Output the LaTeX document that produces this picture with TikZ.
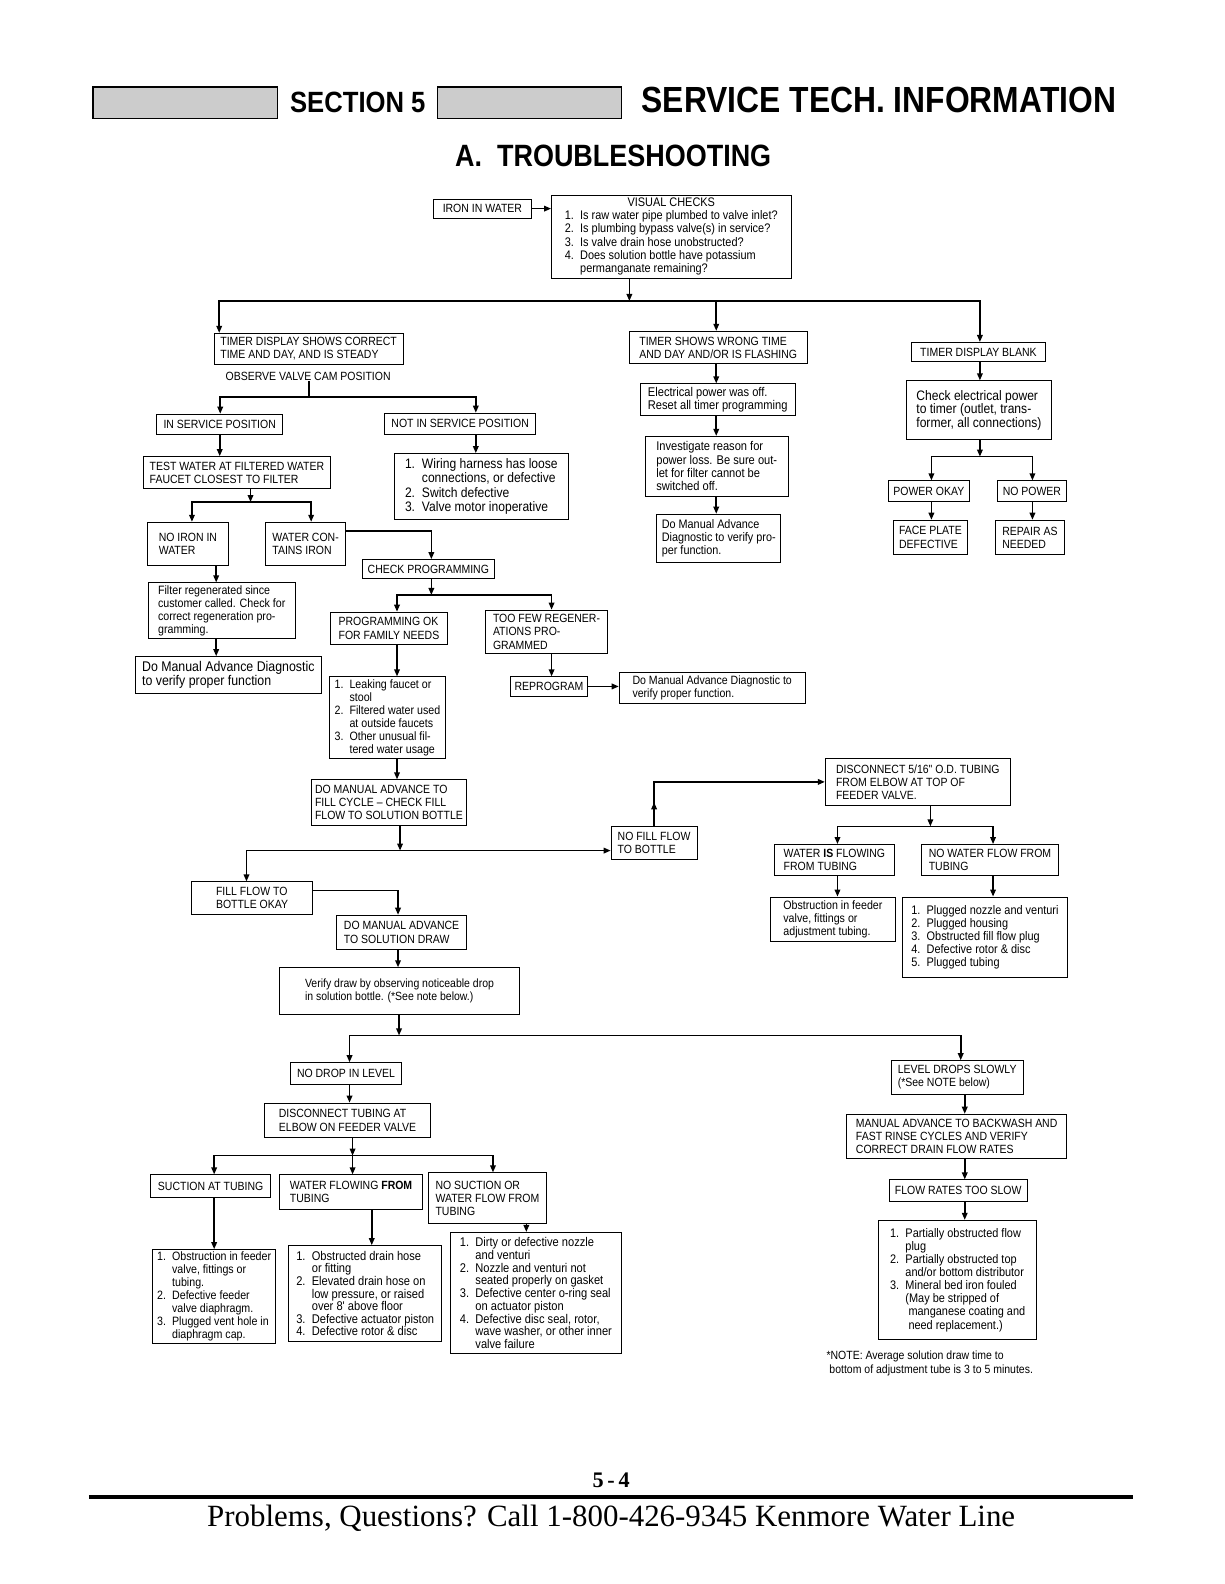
\documentclass[tikz,border=0pt]{standalone}
\usepackage{fontspec}
\setmainfont{Liberation Sans}
\newfontfamily\condf[FakeStretch=0.88]{Liberation Sans}
\newfontfamily\serifft{Liberation Serif}
\usepackage{graphicx}
\usetikzlibrary{arrows.meta,decorations.markings,calc}

\newcommand\nm[1]{#1.\enspace}
\newcommand\hind{\hphantom{1.\enspace}}
\newcommand\flowbox[7]{%
  \pgfmathsetmacro\bxw{#4-#2}%
  \pgfmathsetmacro\bxh{#5-#3}%
  \node[box,minimum width=\bxw pt,minimum height=\bxh pt,#6] (#1) at ({(#2+#4)/2},{(#3+#5)/2}) {#7};}

\tikzset{
  box/.style={draw, line width=0.9pt, inner xsep=4pt, inner ysep=2pt, align=left, font=\condf\fontsize{11.8}{13}\selectfont},
  fs/.style n args={2}{font=\condf\fontsize{#1}{#2}\selectfont},
  conn/.style={line width=1.6pt},
  arr/.style={conn,-{Triangle[length=7pt,width=5.5pt]}},
  darr/.style={conn,{Triangle[length=7pt,width=5.5pt]}-{Triangle[length=7pt,width=5.5pt]}},
  plain/.style={inner sep=0pt},
  midup/.style={postaction={decorate}, decoration={markings, mark=at position 0.11 with {\arrow{Triangle[length=7pt,width=5.5pt]}}}},
  hdrbox/.style={draw, line width=1.3pt, fill=black!20},
}

\begin{document}
\begin{tikzpicture}[x=1pt,y=-1pt]
\useasboundingbox (0,0) rectangle (1212,1568);
\fill[white] (0,0) rectangle (1212,1568);

% header
\draw[hdrbox] (92,86) rectangle (275,117);
\draw[hdrbox] (433,86) rectangle (615,117);
\node[plain,anchor=west] (sec) at (287,101) {\scalebox{0.875}[1]{\fontsize{29}{29}\selectfont\bfseries SECTION 5}};
\node[plain,anchor=west] (stitle) at (635,99) {\scalebox{0.875}[1]{\fontsize{36}{36}\selectfont\bfseries SERVICE TECH. INFORMATION}};
\node[plain] (trouble) at (607,154) {\scalebox{0.875}[1]{\fontsize{30.5}{30}\selectfont\bfseries A.\ \ TROUBLESHOOTING}};

% top
\flowbox{iron}{429}{197}{526}{216}{}{IRON IN WATER}
\flowbox{vis}{546}{193}{783}{276}{fs={12.3}{13}}{\begin{tabular}{@{}l@{}}\multicolumn{1}{@{}c@{}}{VISUAL CHECKS}\\ \nm1Is raw water pipe plumbed to valve inlet?\\ \nm2Is plumbing bypass valve(s) in service?\\ \nm3Is valve drain hose unobstructed?\\ \nm4Does solution bottle have potassium\\ \hind permanganate remaining?\end{tabular}}

% left column
\flowbox{tcor}{212}{330}{399}{361}{}{TIMER DISPLAY SHOWS CORRECT\\TIME AND DAY, AND IS STEADY}
\node[plain,font=\condf\fontsize{11.8}{13}\selectfont] (obsv) at (305,373) {OBSERVE VALVE CAM POSITION};
\flowbox{insvc}{155}{410}{280}{430}{}{IN SERVICE POSITION}
\flowbox{notin}{381}{409}{530}{430}{}{NOT IN SERVICE POSITION}
\flowbox{testw}{142}{452}{327}{484}{}{TEST WATER AT FILTERED WATER\\FAUCET CLOSEST TO FILTER}
\flowbox{wiring}{390}{449}{563}{514}{fs={13.6}{14}}{\nm1Wiring harness has loose\\\hind connections, or defective\\\nm2Switch defective\\\nm3Valve motor inoperative}
\flowbox{noiron}{146}{517}{226}{560}{}{NO IRON IN\\WATER}
\flowbox{wcon}{263}{517}{342}{560}{}{WATER CON-\\TAINS IRON}
\flowbox{chkprog}{359}{554}{489}{573}{}{CHECK PROGRAMMING}
\flowbox{filter}{147}{577}{292}{632}{fs={12}{13}}{Filter regenerated since\\customer called. Check for\\correct regeneration pro-\\gramming.}
\flowbox{doma1}{134}{650}{318}{686}{fs={13.9}{14}}{Do Manual Advance Diagnostic\\to verify proper function}
\flowbox{progok}{327}{606}{443}{638}{}{PROGRAMMING OK\\FOR FAMILY NEEDS}
\flowbox{toofew}{481}{604}{601}{647}{}{TOO FEW REGENER-\\ATIONS PRO-\\GRAMMED}
\flowbox{leak}{326}{670}{441}{751}{fs={12}{12.8}}{\nm1Leaking faucet or\\\hind stool\\\nm2Filtered water used\\\hind at outside faucets\\\nm3Other unusual fil-\\\hind tered water usage}
\flowbox{reprog}{505}{670}{582}{689}{}{REPROGRAM}
\flowbox{doma2}{613}{666}{797}{696}{fs={11.9}{13}}{Do Manual Advance Diagnostic to\\verify proper function.}
\flowbox{domaf}{309}{772}{461}{817}{}{DO MANUAL ADVANCE TO\\FILL CYCLE – CHECK FILL\\FLOW TO SOLUTION BOTTLE}
\flowbox{nofill}{605}{818}{690}{851}{}{NO FILL FLOW\\TO BOTTLE}
\flowbox{disc}{817}{751}{1000}{797}{}{DISCONNECT 5/16" O.D. TUBING\\FROM ELBOW AT TOP OF\\FEEDER VALVE.}
\flowbox{wif}{767}{836}{885}{867}{}{WATER \textbf{IS} FLOWING\\FROM TUBING}
\flowbox{nwf}{912}{836}{1048}{867}{}{NO WATER FLOW FROM\\TUBING}
\flowbox{obs}{763}{888}{886}{932}{fs={12}{13}}{Obstruction in feeder\\valve, fittings or\\adjustment tubing.}
\flowbox{plug}{893}{888}{1057}{968}{fs={12.3}{13}}{\nm1Plugged nozzle and venturi\\\nm2Plugged housing\\\nm3Obstructed fill flow plug\\\nm4Defective rotor \& disc\\\nm5Plugged tubing}
\flowbox{fillok}{190}{873}{309}{905}{}{FILL FLOW TO\\BOTTLE OKAY}
\flowbox{domsd}{333}{906}{462}{940}{}{DO MANUAL ADVANCE\\TO SOLUTION DRAW}
\flowbox{verify}{277}{958}{514}{1004}{fs={11.8}{13}}{Verify draw by observing noticeable drop\\in solution bottle. (*See note below.)}
\flowbox{nodrop}{288}{1052}{397}{1073}{}{NO DROP IN LEVEL}
\flowbox{level}{882}{1050}{1013}{1083}{}{LEVEL DROPS SLOWLY\\(*See NOTE below)}
\flowbox{dtub}{262}{1092}{426}{1126}{}{DISCONNECT TUBING AT\\ELBOW ON FEEDER VALVE}
\flowbox{manbw}{838}{1103}{1056}{1147}{}{MANUAL ADVANCE TO BACKWASH AND\\FAST RINSE CYCLES AND VERIFY\\CORRECT DRAIN FLOW RATES}
\flowbox{suct}{149}{1163}{268}{1185}{}{SUCTION AT TUBING}
\flowbox{wff}{277}{1163}{418}{1197}{}{WATER FLOWING \textbf{FROM}\\TUBING}
\flowbox{nosuc}{424}{1161}{541}{1211}{}{NO SUCTION OR\\WATER FLOW FROM\\TUBING}
\flowbox{flowslow}{880}{1168}{1017}{1189}{}{FLOW RATES TOO SLOW}
\flowbox{obsf}{151}{1237}{273}{1330}{fs={12}{12.8}}{\nm1Obstruction in feeder\\\hind valve, fittings or\\\hind tubing.\\\nm2Defective feeder\\\hind valve diaphragm.\\\nm3Plugged vent hole in\\\hind diaphragm cap.}
\flowbox{obdr}{286}{1233}{437}{1328}{fs={12.5}{12.5}}{\nm1Obstructed drain hose\\\hind or fitting\\\nm2Elevated drain hose on\\\hind low pressure, or raised\\\hind over 8' above floor\\\nm3Defective actuator piston\\\nm4Defective rotor \& disc}
\flowbox{dirty}{446}{1220}{615}{1340}{fs={12.5}{12.6}}{\nm1Dirty or defective nozzle\\\hind and venturi\\\nm2Nozzle and venturi not\\\hind seated properly on gasket\\\nm3Defective center o-ring seal\\\hind on actuator piston\\\nm4Defective disc seal, rotor,\\\hind wave washer, or other inner\\\hind valve failure}
\flowbox{part}{870}{1208}{1026}{1326}{fs={12.3}{13}}{\nm1Partially obstructed flow\\\hind plug\\\nm2Partially obstructed top\\\hind and/or bottom distributor\\\nm3Mineral bed iron fouled\\\hind (May be stripped of\\\hind\ manganese coating and\\\hind\ need replacement.)}
\node[plain,anchor=north west,align=left,font=\condf\fontsize{11.8}{14}\selectfont] (note) at (818,1337) {*NOTE: Average solution draw time to\\\ bottom of adjustment tube is 3 to 5 minutes.};

% middle column
\flowbox{twrong}{623}{328}{799}{360}{}{TIMER SHOWS WRONG TIME\\AND DAY AND/OR IS FLASHING}
\flowbox{elec}{634}{380}{787}{411}{fs={12.5}{13}}{Electrical power was off.\\Reset all timer programming}
\flowbox{invest}{639}{432}{780}{491}{fs={12.5}{13.3}}{Investigate reason for\\power loss. Be sure out-\\let for filter cannot be\\switched off.}
\flowbox{doma3}{650}{509}{773}{557}{fs={12.2}{13}}{Do Manual Advance\\Diagnostic to verify pro-\\per function.}

% right column
\flowbox{tblank}{902}{339}{1035}{358}{}{TIMER DISPLAY BLANK}
\flowbox{checke}{897}{377}{1041}{435}{fs={13.6}{13.5}}{Check electrical power\\to timer (outlet, trans-\\former, all connections)}
\flowbox{pok}{879}{476}{960}{496}{}{POWER OKAY}
\flowbox{nopow}{987}{476}{1056}{496}{}{NO POWER}
\flowbox{face}{884}{515}{958}{549}{}{FACE PLATE\\DEFECTIVE}
\flowbox{repair}{985}{515}{1054}{549}{}{REPAIR AS\\NEEDED}

% junction coordinates
\coordinate (j0) at (623,298);
\coordinate (jL) at (217,298);
\coordinate (jM) at (709,298);
\coordinate (jR) at (970,298);
\coordinate (kL) at (218,393);
\coordinate (kM) at (306,393);
\coordinate (kR) at (471,393);
\coordinate (m0) at (248,497);
\coordinate (mL) at (190,497);
\coordinate (mR) at (308,497);
\coordinate (fx) at (214,0);
\coordinate (cx) at (427,0);
\coordinate (nL) at (393,589);
\coordinate (nR) at (546,589);
\coordinate (p0) at (396,842);
\coordinate (pL) at (244,842);
\coordinate (q0) at (921,818);
\coordinate (qL) at (829,818);
\coordinate (qR) at (983,818);
\coordinate (sx) at (394,0);
\coordinate (r0) at (395,1025);
\coordinate (rL) at (346,1025);
\coordinate (rR) at (951,1025);
\coordinate (s0) at (349,1144);
\coordinate (sL) at (212,1144);
\coordinate (sR) at (488,1144);
\coordinate (wx) at (368,0);
\coordinate (nx) at (521,0);
\coordinate (lx) at (955,0);
\coordinate (vL) at (922,452);
\coordinate (vR) at (1022,452);

% connectors
\draw[arr] (iron.east) -- (iron.east -| vis.west);
\draw[arr] (vis.south -| j0) -- (j0);
\draw[darr] (jL |- tcor.north) -- (jL) -- (jR) -- (jR |- tblank.north);
\draw[arr] (jM) -- (jM |- twrong.north);

\draw[conn] (obsv.south -| kM) -- (kM);
\draw[darr] (kL |- insvc.north) -- (kL) -- (kR) -- (kR |- notin.north);
\draw[arr] (insvc.south) -- (insvc.south |- testw.north);
\draw[arr] (notin.south -| kR) -- (kR |- wiring.north);
\draw[arr] (testw.south -| m0) -- (m0);
\draw[darr] (mL |- noiron.north) -- (mL) -- (mR) -- (mR |- wcon.north);
\draw[arr] (noiron.south -| fx) -- (fx |- filter.north);
\draw[arr] (filter.south -| fx) -- (fx |- doma1.north);
\draw[arr] ([yshift=-9pt]wcon.north east) -| (cx |- chkprog.north);
\draw[arr] (chkprog.south -| cx) -- (cx |- nL);
\draw[darr] (nL |- progok.north) -- (nL) -- (nR) -- (nR |- toofew.north);
\draw[arr] (progok.south -| nL) -- (nL |- leak.north);
\draw[arr] (toofew.south -| nR) -- (nR |- reprog.north);
\draw[arr] (reprog.east) -- (reprog.east -| doma2.west);
\draw[arr] (leak.south -| nL) -- (nL |- domaf.north);
\draw[arr] (domaf.south -| p0) -- (p0);
\draw[darr] (pL |- fillok.north) -- (pL) -- (pL -| nofill.west);
\draw[arr,midup] (nofill.north) |- (disc.west);
\draw[arr] (disc.south -| q0) -- (q0);
\draw[darr] (qL |- wif.north) -- (qL) -- (qR) -- (qR |- nwf.north);
\draw[arr] (wif.south -| qL) -- (qL |- obs.north);
\draw[arr] (nwf.south -| qR) -- (qR |- plug.north);
\draw[arr] ([yshift=-9pt]fillok.north east) -| (sx |- domsd.north);
\draw[arr] (domsd.south -| sx) -- (sx |- verify.north);
\draw[arr] (verify.south -| r0) -- (r0);
\draw[darr] (rL |- nodrop.north) -- (rL) -- (rR) -- (rR |- level.north);
\draw[arr] (nodrop.south -| rL) -- (rL |- dtub.north);
\draw[arr] (dtub.south -| s0) -- (s0);
\draw[arr] (s0) -- (s0 |- wff.north);
\draw[darr] (sL |- suct.north) -- (sL) -- (sR) -- (sR |- nosuc.north);
\draw[arr] (suct.south -| sL) -- (sL |- obsf.north);
\draw[arr] (wff.south -| wx) -- (wx |- obdr.north);
\draw[arr] (nosuc.south -| nx) -- (nx |- dirty.north);
\draw[arr] (level.south -| lx) -- (lx |- manbw.north);
\draw[arr] (manbw.south -| lx) -- (lx |- flowslow.north);
\draw[arr] (flowslow.south -| lx) -- (lx |- part.north);

\draw[arr] (twrong.south -| jM) -- (jM |- elec.north);
\draw[arr] (elec.south -| jM) -- (jM |- invest.north);
\draw[arr] (invest.south -| jM) -- (jM |- doma3.north);

\draw[arr] (tblank.south -| jR) -- (jR |- checke.north);
\draw[arr] (checke.south -| jR) -- (jR |- vL);
\draw[darr] (vL |- pok.north) -- (vL) -- (vR) -- (vR |- nopow.north);
\draw[arr] (pok.south -| vL) -- (vL |- face.north);
\draw[arr] (nopow.south -| vR) -- (vR |- repair.north);

% footer
\node[plain] (pnum) at (605,1465) {\serifft\fontsize{22}{22}\selectfont\bfseries 5\,-\,4};
\draw[line width=3.5pt] (88,1482) coordinate (fl) -- (1122,1482) coordinate (fr);
\node[plain] (footer) at (605,1503) {\serifft\fontsize{30.6}{30}\selectfont Problems, Questions? Call 1-800-426-9345 Kenmore Water Line};
\end{tikzpicture}
\end{document}
